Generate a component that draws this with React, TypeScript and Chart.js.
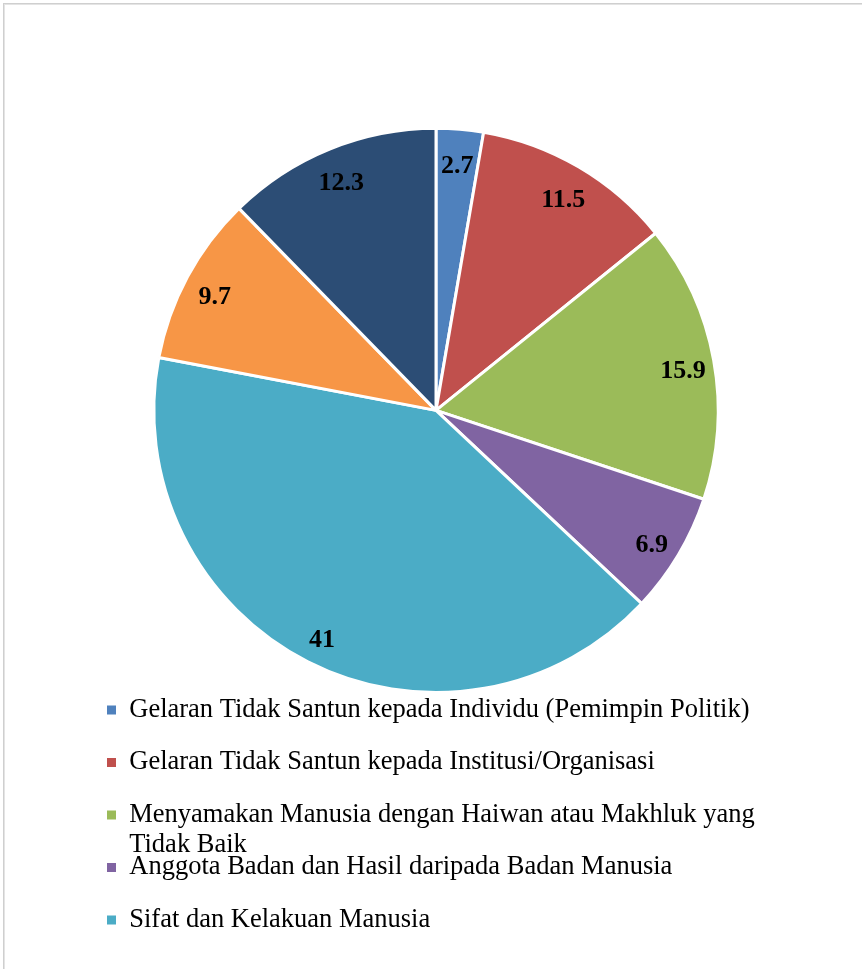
import React, { useEffect, useRef } from "react";
import { Chart, registerables } from "chart.js";

Chart.register(...registerables);

// Category names (the last two legend entries are cut off in the reference image)
const categories: string[] = [
  "Gelaran Tidak Santun kepada Individu (Pemimpin Politik)",
  "Gelaran Tidak Santun kepada Institusi/Organisasi",
  "Menyamakan Manusia dengan Haiwan atau Makhluk yang Tidak Baik",
  "Anggota Badan dan Hasil daripada Badan Manusia",
  "Sifat dan Kelakuan Manusia",
  "Kategori 6",
  "Kategori 7",
];

const values: number[] = [2.7, 11.5, 15.9, 6.9, 41, 9.7, 12.3];

const colors: string[] = [
  "#4F81BD",
  "#C0504D",
  "#9BBB59",
  "#8064A2",
  "#4BACC6",
  "#F79646",
  "#2C4D75",
];

const visibleLegendCount = 5;

const FONT = '"Times New Roman", "Liberation Serif", serif';
const LEGEND_SIZE = 26.5;
const LABEL_SIZE = 26;

function wrapText(ctx: CanvasRenderingContext2D, text: string, maxW: number): string | string[] {
  const words = text.split(" ");
  const lines: string[] = [];
  let cur = "";
  for (const w of words) {
    const test = cur ? cur + " " + w : w;
    if (cur && ctx.measureText(test).width > maxW) {
      lines.push(cur);
      cur = w;
    } else {
      cur = test;
    }
  }
  if (cur) lines.push(cur);
  return lines.length === 1 ? lines[0] : lines;
}

const sliceLabels = {
  id: "sliceLabels",
  afterDatasetsDraw(chart: any) {
    const ctx = chart.ctx as CanvasRenderingContext2D;
    const meta = chart.getDatasetMeta(0);
    ctx.save();
    ctx.font = `bold ${LABEL_SIZE}px ${FONT}`;
    ctx.fillStyle = "#000";
    ctx.textAlign = "center";
    ctx.textBaseline = "middle";
    meta.data.forEach((arc: any, i: number) => {
      const p = arc.getProps(["x", "y", "startAngle", "endAngle", "outerRadius"], true);
      const mid = (p.startAngle + p.endAngle) / 2;
      const r = p.outerRadius * 0.89;
      ctx.fillText(String(values[i]), p.x + Math.cos(mid) * r, p.y + Math.sin(mid) * r + 6);
    });
    ctx.restore();
  },
};

export default function App() {
  const ref = useRef<HTMLCanvasElement | null>(null);

  useEffect(() => {
    if (!ref.current) return;
    const chart = new Chart(ref.current, {
      type: "pie",
      data: {
        labels: categories,
        datasets: [
          {
            data: values,
            backgroundColor: colors,
            borderColor: "#ffffff",
            borderWidth: 3,
            radius: "109%",
          } as any,
        ],
      },
      options: {
        responsive: false,
        animation: false,
        layout: { padding: { top: 150, left: 81, right: 71, bottom: 25.75 } },
        plugins: {
          tooltip: { enabled: false },
          legend: {
            position: "bottom",
            align: "start",
            labels: {
              color: "#000",
              font: { size: LEGEND_SIZE, family: FONT, lineHeight: 1.12 },
              boxWidth: 9,
              boxHeight: 9,
              padding: 26,
              filter: (item: any) => item.index < visibleLegendCount,
              generateLabels: (c: any) => {
                const base = (Chart as any).overrides.pie.plugins.legend.labels.generateLabels(c);
                const ctx = c.ctx as CanvasRenderingContext2D;
                ctx.save();
                ctx.font = `${LEGEND_SIZE}px ${FONT}`;
                base.forEach((it: any) => {
                  it.lineWidth = 0;
                  it.text = wrapText(ctx, it.text, 680);
                });
                ctx.restore();
                return base;
              },
            },
          },
        },
      },
      plugins: [sliceLabels],
    });
    return () => chart.destroy();
  }, []);

  return (
    <div style={{ position: "absolute", left: 0, top: 0, width: 862, height: 969, background: "#fff" }}>
      <div
        style={{
          position: "absolute",
          left: 3,
          top: 3,
          right: 0,
          bottom: 0,
          borderTop: "1px solid #cfcfcf",
          borderLeft: "1px solid #cfcfcf",
          boxShadow: "inset 1px 1px 0 #e4e4e4",
        }}
      />
      <canvas
        ref={ref}
        width={862}
        height={969}
        style={{ position: "absolute", left: 0, top: 0, display: "block" }}
      />
    </div>
  );
}
